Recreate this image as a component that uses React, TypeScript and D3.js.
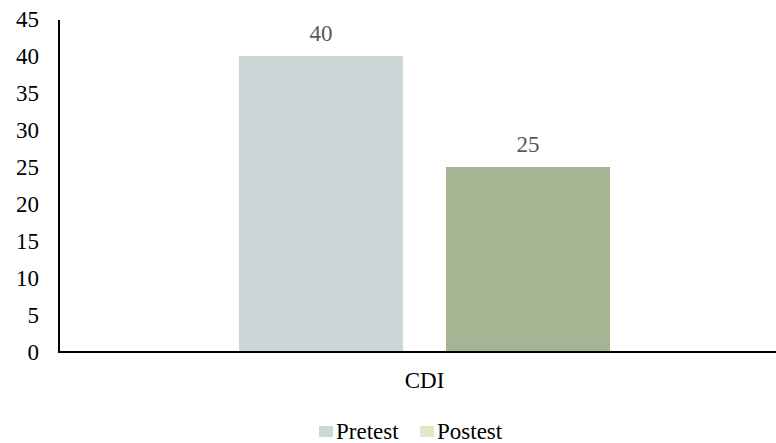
import React from "react";
import * as d3 from "d3";

const categories = ["CDI"];
const seriesNames = ["Pretest", "Postest"];
const pretest = [40];
const postest = [25];
const yTicks = [0, 5, 10, 15, 20, 25, 30, 35, 40, 45];

const barColors = ["#ccd8d8", "#a5b594"];
const legendColors = ["#ccd8d8", "#dfe8c8"];

const W = 776;
const H = 443;
const left = 59;
const right = 776;
const top = 19;
const bottom = 352;

const serif = '"Liberation Serif", "Times New Roman", serif';

export default function App() {
  const y = d3.scaleLinear().domain([0, 45]).range([bottom, top]);
  const x0 = d3
    .scaleBand<string>()
    .domain(categories)
    .range([left + 7, right + 7])
    .paddingOuter(0.241)
    .paddingInner(0);
  const groupW = 371;
  const x1 = d3
    .scaleBand<string>()
    .domain(seriesNames)
    .range([0, groupW])
    .paddingInner(0.2077)
    .paddingOuter(0);

  const seriesValues = [pretest, postest];

  return (
    <svg
      className="chart"
      width={W}
      height={H}
      style={{ position: "absolute", left: 0, top: 0, background: "#fff", fontFamily: serif }}
    >
      <style>{`.chart text { font-family: ${serif}; font-size: 23px; }`}</style>
      {categories.map((c, ci) => {
        const gx = (x0(c) ?? 0) + (x0.bandwidth() - groupW) / 2;
        return (
          <g key={c}>
            {seriesNames.map((s, si) => {
              const v = seriesValues[si][ci];
              const bx = gx + (x1(s) ?? 0);
              return (
                <g key={s}>
                  <rect
                    x={bx}
                    y={y(v)}
                    width={x1.bandwidth()}
                    height={y(0) - y(v)}
                    fill={barColors[si]}
                  />
                  <text
                    x={bx + x1.bandwidth() / 2}
                    y={y(v) - 15}
                    textAnchor="middle"
                    fill="#595959"
                  >
                    {String(v)}
                  </text>
                </g>
              );
            })}
            <text
              x={(x0(c) ?? 0) + x0.bandwidth() / 2}
              y={388}
              textAnchor="middle"
              fill="#000"
            >
              {c}
            </text>
          </g>
        );
      })}

      {yTicks.map((t) => (
        <text key={t} x={39} y={y(t) + 8} textAnchor="end" fill="#000">
          {String(t)}
        </text>
      ))}

      <line x1={left} x2={left} y1={top + 1} y2={bottom + 1} stroke="#000" strokeWidth={2} />
      <line x1={left - 1} x2={right} y1={bottom} y2={bottom} stroke="#000" strokeWidth={2} />

      {seriesNames.map((s, i) => {
        const lx = [319, 420][i];
        return (
          <g key={s}>
            <rect x={lx} y={426} width={14} height={11} fill={legendColors[i]} />
            <text x={lx + 17} y={439} fill="#000">
              {s}
            </text>
          </g>
        );
      })}
    </svg>
  );
}
